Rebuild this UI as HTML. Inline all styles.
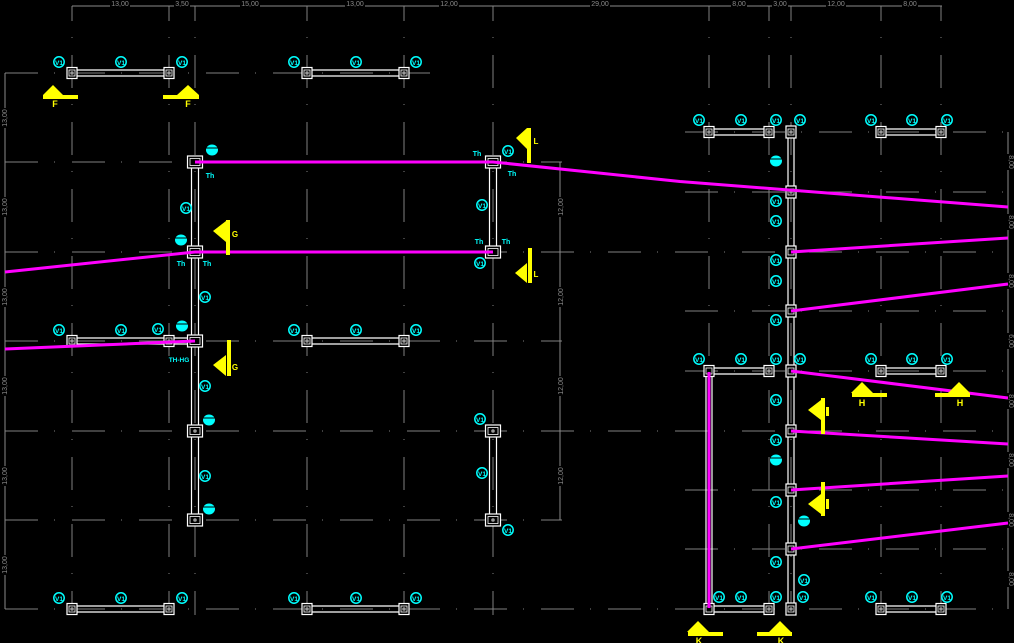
<!DOCTYPE html>
<html><head><meta charset="utf-8">
<style>html,body{margin:0;padding:0;background:#000;}svg{display:block;}</style>
</head><body>
<svg width="1014" height="643" viewBox="0 0 1014 643" xmlns="http://www.w3.org/2000/svg" font-family="Liberation Sans, sans-serif">
<rect width="1014" height="643" fill="#000"/>
<!-- grid -->
<g stroke="#808080" stroke-width="1" fill="none" stroke-dasharray="33 16 1 17" stroke-dashoffset="18">
<line x1="72" y1="6" x2="72" y2="615"/><line x1="169" y1="6" x2="169" y2="615"/><line x1="195" y1="6" x2="195" y2="615"/>
<line x1="307" y1="6" x2="307" y2="615"/><line x1="404" y1="6" x2="404" y2="615"/><line x1="493" y1="6" x2="493" y2="615"/>
<line x1="709" y1="6" x2="709" y2="615"/><line x1="769" y1="6" x2="769" y2="615"/><line x1="791" y1="6" x2="791" y2="615"/>
<line x1="881" y1="6" x2="881" y2="615"/><line x1="941" y1="6" x2="941" y2="615"/>
</g>
<g stroke="#808080" stroke-width="1" fill="none" stroke-dasharray="33 16 1 17">
<line x1="5" y1="73" x2="430" y2="73"/><line x1="5" y1="162" x2="562" y2="162"/><line x1="5" y1="252" x2="1008" y2="252"/>
<line x1="5" y1="341" x2="562" y2="341"/><line x1="5" y1="431" x2="1008" y2="431"/><line x1="5" y1="520" x2="562" y2="520"/>
<line x1="5" y1="609" x2="1008" y2="609"/>
<line x1="685" y1="132" x2="1008" y2="132"/><line x1="685" y1="192" x2="1008" y2="192"/><line x1="685" y1="311" x2="1008" y2="311"/>
<line x1="685" y1="371" x2="1008" y2="371"/><line x1="685" y1="490" x2="1008" y2="490"/><line x1="685" y1="549" x2="1008" y2="549"/>
</g>
<!-- dimension lines -->
<g stroke="#8a8a8a" stroke-width="1">
<line x1="72" y1="6" x2="942" y2="6"/>
<line x1="5" y1="73" x2="5" y2="609"/>
<line x1="560" y1="162" x2="560" y2="520"/>
<line x1="1008" y1="132" x2="1008" y2="609"/>
</g>
<g fill="#000">
<rect x="110" y="0" width="20" height="7"/><rect x="174" y="0" width="16" height="7"/><rect x="240" y="0" width="20" height="7"/>
<rect x="345" y="0" width="20" height="7"/><rect x="439" y="0" width="20" height="7"/><rect x="590" y="0" width="20" height="7"/>
<rect x="731" y="0" width="16" height="7"/><rect x="772" y="0" width="16" height="7"/><rect x="826" y="0" width="20" height="7"/><rect x="902" y="0" width="16" height="7"/>
<rect x="0" y="108" width="10" height="20"/><rect x="0" y="197" width="10" height="20"/><rect x="0" y="287" width="10" height="20"/>
<rect x="0" y="376" width="10" height="20"/><rect x="0" y="466" width="10" height="20"/><rect x="0" y="555" width="10" height="20"/>
<rect x="556" y="197" width="10" height="20"/><rect x="556" y="287" width="10" height="20"/><rect x="556" y="376" width="10" height="20"/><rect x="556" y="466" width="10" height="20"/>
<rect x="1004" y="154" width="10" height="16"/><rect x="1004" y="214" width="10" height="16"/><rect x="1004" y="273" width="10" height="16"/>
<rect x="1004" y="333" width="10" height="16"/><rect x="1004" y="393" width="10" height="16"/><rect x="1004" y="452" width="10" height="16"/>
<rect x="1004" y="512" width="10" height="16"/><rect x="1004" y="571" width="10" height="16"/>
</g>
<g fill="#8a8a8a" font-size="7" text-anchor="middle">
<text x="120" y="6">13,00</text><text x="182" y="6">3,50</text><text x="250" y="6">15,00</text><text x="355" y="6">13,00</text>
<text x="449" y="6">12,00</text><text x="600" y="6">29,00</text><text x="739" y="6">8,00</text><text x="780" y="6">3,00</text>
<text x="836" y="6">12,00</text><text x="910" y="6">8,00</text>
<text transform="translate(7,118) rotate(-90)">13,00</text><text transform="translate(7,207) rotate(-90)">13,00</text>
<text transform="translate(7,297) rotate(-90)">13,00</text><text transform="translate(7,386) rotate(-90)">13,00</text>
<text transform="translate(7,476) rotate(-90)">13,00</text><text transform="translate(7,565) rotate(-90)">13,00</text>
<text transform="translate(563,207) rotate(-90)">12,00</text><text transform="translate(563,297) rotate(-90)">12,00</text>
<text transform="translate(563,386) rotate(-90)">12,00</text><text transform="translate(563,476) rotate(-90)">12,00</text>
<text transform="translate(1009,162) rotate(90)">8,00</text><text transform="translate(1009,222) rotate(90)">8,00</text>
<text transform="translate(1009,281) rotate(90)">8,00</text><text transform="translate(1009,341) rotate(90)">6,00</text>
<text transform="translate(1009,401) rotate(90)">8,00</text><text transform="translate(1009,460) rotate(90)">8,00</text>
<text transform="translate(1009,520) rotate(90)">8,00</text><text transform="translate(1009,579) rotate(90)">8,00</text>
</g>
<!-- beams -->
<g stroke="#fff" stroke-width="1.2" fill="none">
<path d="M72 70H169M72 76H169M307 70H404M307 76H404"/>
<path d="M72 338H195M72 344H195M307 338H404M307 344H404"/>
<path d="M72 606H169M72 612H169M307 606H404M307 612H404"/>
<path d="M709 129H769M709 135H769M881 129H941M881 135H941"/>
<path d="M709 368H769M709 374H769M881 368H941M881 374H941"/>
<path d="M709 606H769M709 612H769M881 606H941M881 612H941"/>
<path d="M191.5 162V520M198.5 162V520"/>
<path d="M489.5 162V252M496.5 162V252M489.5 431V520M496.5 431V520"/>
<path d="M788 132V609M794 132V609"/>
<path d="M706 371V609M712 371V609"/>
</g>
<!-- columns -->
<g stroke="#fff" stroke-width="1.2" fill="#000">
<rect x="67" y="67.5" width="10" height="11"/><rect x="164" y="67.5" width="10" height="11"/><rect x="302" y="67.5" width="10" height="11"/><rect x="399" y="67.5" width="10" height="11"/>
<rect x="67" y="335.5" width="10" height="11"/><rect x="164" y="335.5" width="10" height="11"/><rect x="302" y="335.5" width="10" height="11"/><rect x="399" y="335.5" width="10" height="11"/>
<rect x="67" y="603.5" width="10" height="11"/><rect x="164" y="603.5" width="10" height="11"/><rect x="302" y="603.5" width="10" height="11"/><rect x="399" y="603.5" width="10" height="11"/>
<rect x="704" y="126.5" width="10" height="11"/><rect x="764" y="126.5" width="10" height="11"/><rect x="876" y="126.5" width="10" height="11"/><rect x="936" y="126.5" width="10" height="11"/>
<rect x="704" y="365.5" width="10" height="11"/><rect x="764" y="365.5" width="10" height="11"/><rect x="876" y="365.5" width="10" height="11"/><rect x="936" y="365.5" width="10" height="11"/>
<rect x="704" y="603.5" width="10" height="11"/><rect x="764" y="603.5" width="10" height="11"/><rect x="876" y="603.5" width="10" height="11"/><rect x="936" y="603.5" width="10" height="11"/>
<rect x="786" y="126" width="10" height="12"/><rect x="786" y="186" width="10" height="12"/><rect x="786" y="246" width="10" height="12"/>
<rect x="786" y="305" width="10" height="12"/><rect x="786" y="365" width="10" height="12"/><rect x="786" y="425" width="10" height="12"/>
<rect x="786" y="484" width="10" height="12"/><rect x="786" y="543" width="10" height="12"/><rect x="786" y="603" width="10" height="12"/>
<rect x="187.5" y="156" width="15" height="12"/><rect x="187.5" y="246" width="15" height="12"/><rect x="187.5" y="335" width="15" height="12"/>
<rect x="187.5" y="425" width="15" height="12"/><rect x="187.5" y="514" width="15" height="12"/>
<rect x="485.5" y="156" width="15" height="12"/><rect x="485.5" y="246" width="15" height="12"/>
<rect x="485.5" y="425" width="15" height="12"/><rect x="485.5" y="514" width="15" height="12"/>
</g>
<g stroke="#fff" stroke-width="0.8" fill="none">
<rect x="69" y="70" width="6" height="6"/><rect x="166" y="70" width="6" height="6"/><rect x="304" y="70" width="6" height="6"/><rect x="401" y="70" width="6" height="6"/>
<rect x="69" y="338" width="6" height="6"/><rect x="166" y="338" width="6" height="6"/><rect x="304" y="338" width="6" height="6"/><rect x="401" y="338" width="6" height="6"/>
<rect x="69" y="606" width="6" height="6"/><rect x="166" y="606" width="6" height="6"/><rect x="304" y="606" width="6" height="6"/><rect x="401" y="606" width="6" height="6"/>
<rect x="706" y="129" width="6" height="6"/><rect x="766" y="129" width="6" height="6"/><rect x="878" y="129" width="6" height="6"/><rect x="938" y="129" width="6" height="6"/>
<rect x="706" y="368" width="6" height="6"/><rect x="766" y="368" width="6" height="6"/><rect x="878" y="368" width="6" height="6"/><rect x="938" y="368" width="6" height="6"/>
<rect x="706" y="606" width="6" height="6"/><rect x="766" y="606" width="6" height="6"/><rect x="878" y="606" width="6" height="6"/><rect x="938" y="606" width="6" height="6"/>
<rect x="788" y="129" width="6" height="6"/><rect x="788" y="189" width="6" height="6"/><rect x="788" y="249" width="6" height="6"/>
<rect x="788" y="308" width="6" height="6"/><rect x="788" y="368" width="6" height="6"/><rect x="788" y="428" width="6" height="6"/>
<rect x="788" y="487" width="6" height="6"/><rect x="788" y="546" width="6" height="6"/><rect x="788" y="606" width="6" height="6"/>
<rect x="190" y="158.5" width="10" height="7"/><rect x="190" y="248.5" width="10" height="7"/><rect x="190" y="337.5" width="10" height="7"/>
<rect x="190" y="427.5" width="10" height="7"/><rect x="190" y="516.5" width="10" height="7"/>
<rect x="488" y="158.5" width="10" height="7"/><rect x="488" y="248.5" width="10" height="7"/>
<rect x="488" y="427.5" width="10" height="7"/><rect x="488" y="516.5" width="10" height="7"/>
</g>
<g fill="#999">
<circle cx="72" cy="73" r="1.8"/><circle cx="169" cy="73" r="1.8"/><circle cx="307" cy="73" r="1.8"/><circle cx="404" cy="73" r="1.8"/>
<circle cx="72" cy="341" r="1.8"/><circle cx="169" cy="341" r="1.8"/><circle cx="307" cy="341" r="1.8"/><circle cx="404" cy="341" r="1.8"/>
<circle cx="72" cy="609" r="1.8"/><circle cx="169" cy="609" r="1.8"/><circle cx="307" cy="609" r="1.8"/><circle cx="404" cy="609" r="1.8"/>
<circle cx="709" cy="132" r="1.8"/><circle cx="769" cy="132" r="1.8"/><circle cx="881" cy="132" r="1.8"/><circle cx="941" cy="132" r="1.8"/>
<circle cx="769" cy="371" r="1.8"/><circle cx="881" cy="371" r="1.8"/><circle cx="941" cy="371" r="1.8"/>
<circle cx="769" cy="609" r="1.8"/><circle cx="881" cy="609" r="1.8"/><circle cx="941" cy="609" r="1.8"/>
<circle cx="791" cy="132" r="1.8"/><circle cx="791" cy="192" r="1.8"/><circle cx="791" cy="609" r="1.8"/>
<circle cx="195" cy="431" r="1.8"/><circle cx="195" cy="520" r="1.8"/>
<circle cx="493" cy="431" r="1.8"/><circle cx="493" cy="520" r="1.8"/>
</g>
<!-- magenta -->
<g stroke="#ff00ff" stroke-width="3" fill="none">
<polyline points="195,162 493,162 680,181.5 1008,207"/>
<polyline points="5,272 195,252 493,252"/>
<line x1="791" y1="252" x2="1008" y2="238"/>
<line x1="791" y1="311" x2="1008" y2="284"/>
<line x1="5" y1="349" x2="195" y2="341"/>
<line x1="791" y1="371" x2="1008" y2="398"/>
<line x1="791" y1="431" x2="1008" y2="444"/>
<line x1="791" y1="490" x2="1008" y2="476"/>
<line x1="791" y1="549" x2="1008" y2="523"/>
<line x1="709" y1="372" x2="709" y2="608"/>
</g>
<!-- cyan bubbles -->
<g stroke="#00ffff" stroke-width="1.5" fill="none">
<circle cx="59" cy="62" r="5.2"/><circle cx="121" cy="62" r="5.2"/><circle cx="182" cy="62" r="5.2"/><circle cx="294" cy="62" r="5.2"/><circle cx="356" cy="62" r="5.2"/><circle cx="416" cy="62" r="5.2"/>
<circle cx="186" cy="208" r="5.2"/><circle cx="508" cy="151" r="5.2"/><circle cx="482" cy="205" r="5.2"/><circle cx="480" cy="263" r="5.2"/>
<circle cx="59" cy="330" r="5.2"/><circle cx="121" cy="330" r="5.2"/><circle cx="158" cy="329" r="5.2"/><circle cx="294" cy="330" r="5.2"/><circle cx="356" cy="330" r="5.2"/><circle cx="416" cy="330" r="5.2"/>
<circle cx="205" cy="297" r="5.2"/><circle cx="205" cy="386" r="5.2"/><circle cx="205" cy="476" r="5.2"/>
<circle cx="480" cy="419" r="5.2"/><circle cx="482" cy="473" r="5.2"/><circle cx="508" cy="530" r="5.2"/>
<circle cx="59" cy="598" r="5.2"/><circle cx="121" cy="598" r="5.2"/><circle cx="182" cy="598" r="5.2"/><circle cx="294" cy="598" r="5.2"/><circle cx="356" cy="598" r="5.2"/><circle cx="416" cy="598" r="5.2"/>
<circle cx="699" cy="120" r="5.2"/><circle cx="741" cy="120" r="5.2"/><circle cx="776" cy="120" r="5.2"/><circle cx="800" cy="120" r="5.2"/><circle cx="871" cy="120" r="5.2"/><circle cx="912" cy="120" r="5.2"/><circle cx="947" cy="120" r="5.2"/>
<circle cx="776" cy="201" r="5.2"/><circle cx="776" cy="221" r="5.2"/><circle cx="776" cy="260" r="5.2"/><circle cx="776" cy="281" r="5.2"/><circle cx="776" cy="320" r="5.2"/>
<circle cx="699" cy="359" r="5.2"/><circle cx="741" cy="359" r="5.2"/><circle cx="776" cy="359" r="5.2"/><circle cx="800" cy="359" r="5.2"/><circle cx="871" cy="359" r="5.2"/><circle cx="912" cy="359" r="5.2"/><circle cx="947" cy="359" r="5.2"/>
<circle cx="776" cy="400" r="5.2"/><circle cx="776" cy="440" r="5.2"/><circle cx="776" cy="502" r="5.2"/><circle cx="776" cy="562" r="5.2"/><circle cx="804" cy="580" r="5.2"/>
<circle cx="719" cy="597" r="5.2"/><circle cx="741" cy="597" r="5.2"/><circle cx="776" cy="597" r="5.2"/><circle cx="803" cy="597" r="5.2"/><circle cx="871" cy="597" r="5.2"/><circle cx="912" cy="597" r="5.2"/><circle cx="947" cy="597" r="5.2"/>
</g>
<g fill="#00ffff" font-size="6.5" font-weight="bold" text-anchor="middle">
<text x="59" y="65">V1</text><text x="121" y="65">V1</text><text x="182" y="65">V1</text><text x="294" y="65">V1</text><text x="356" y="65">V1</text><text x="416" y="65">V1</text>
<text x="186" y="211">V1</text><text x="508" y="154">V1</text><text x="482" y="208">V1</text><text x="480" y="266">V1</text>
<text x="59" y="333">V1</text><text x="121" y="333">V1</text><text x="158" y="332">V1</text><text x="294" y="333">V1</text><text x="356" y="333">V1</text><text x="416" y="333">V1</text>
<text x="205" y="300">V1</text><text x="205" y="389">V1</text><text x="205" y="479">V1</text>
<text x="480" y="422">V1</text><text x="482" y="476">V1</text><text x="508" y="533">V1</text>
<text x="59" y="601">V1</text><text x="121" y="601">V1</text><text x="182" y="601">V1</text><text x="294" y="601">V1</text><text x="356" y="601">V1</text><text x="416" y="601">V1</text>
<text x="699" y="123">V1</text><text x="741" y="123">V1</text><text x="776" y="123">V1</text><text x="800" y="123">V1</text><text x="871" y="123">V1</text><text x="912" y="123">V1</text><text x="947" y="123">V1</text>
<text x="776" y="204">V1</text><text x="776" y="224">V1</text><text x="776" y="263">V1</text><text x="776" y="284">V1</text><text x="776" y="323">V1</text>
<text x="699" y="362">V1</text><text x="741" y="362">V1</text><text x="776" y="362">V1</text><text x="800" y="362">V1</text><text x="871" y="362">V1</text><text x="912" y="362">V1</text><text x="947" y="362">V1</text>
<text x="776" y="403">V1</text><text x="776" y="443">V1</text><text x="776" y="505">V1</text><text x="776" y="565">V1</text><text x="804" y="583">V1</text>
<text x="719" y="600">V1</text><text x="741" y="600">V1</text><text x="776" y="600">V1</text><text x="803" y="600">V1</text><text x="871" y="600">V1</text><text x="912" y="600">V1</text><text x="947" y="600">V1</text>
</g>
<!-- filled bubbles -->
<g fill="#00ffff">
<ellipse cx="212" cy="150" rx="6" ry="5.5"/><ellipse cx="181" cy="240" rx="6" ry="5.5"/><ellipse cx="182" cy="326" rx="6" ry="5.5"/>
<ellipse cx="209" cy="420" rx="6" ry="5.5"/><ellipse cx="209" cy="509" rx="6" ry="5.5"/>
<ellipse cx="776" cy="161" rx="6" ry="5.5"/><ellipse cx="776" cy="460" rx="6" ry="5.5"/><ellipse cx="804" cy="521" rx="6" ry="5.5"/>
</g>
<g stroke="#000" stroke-width="1">
<line x1="206" y1="148" x2="218" y2="148"/><line x1="175" y1="238" x2="187" y2="238"/><line x1="176" y1="324" x2="188" y2="324"/>
<line x1="203" y1="418" x2="215" y2="418"/><line x1="203" y1="507" x2="215" y2="507"/>
<line x1="770" y1="159" x2="782" y2="159"/><line x1="770" y1="458" x2="782" y2="458"/><line x1="798" y1="519" x2="810" y2="519"/>
</g>
<g fill="#00ffff" font-size="7" font-weight="bold" text-anchor="middle">
<text x="210" y="178">Th</text><text x="181" y="266">Th</text><text x="207" y="266">Th</text>
<text x="477" y="156">Th</text><text x="512" y="176">Th</text><text x="479" y="244">Th</text><text x="506" y="244">Th</text>
<text x="179" y="362" font-size="6.5">TH-HG</text>
</g>
<!-- yellow markers -->
<g fill="#ffff00">
<polygon points="43,95 53,85 63,95"/><rect x="43" y="95" width="35" height="4"/>
<polygon points="177,95 188,85 199,95"/><rect x="163" y="95" width="36" height="4"/>
<polygon points="851,393 862,382 873,393"/><rect x="852" y="393" width="35" height="4"/>
<polygon points="948,393 959,382 970,393"/><rect x="935" y="393" width="35" height="4"/>
<polygon points="687,632 698,621 709,632"/><rect x="688" y="632" width="35" height="4"/>
<polygon points="769,632 780,621 791,632"/><rect x="757" y="632" width="35" height="4"/>
<rect x="226" y="220" width="4" height="35"/><polygon points="213,231 226,221 226,242"/>
<rect x="227" y="340" width="4" height="36"/><polygon points="213,365 226,355 226,376"/>
<rect x="527" y="128" width="4" height="35"/><polygon points="516,138 527,128 527,149"/>
<rect x="528" y="248" width="4" height="35"/><polygon points="515,273 527,263 527,283"/>
<rect x="821" y="398" width="4" height="36"/><polygon points="808,410 821,400 821,420"/>
<rect x="821" y="482" width="4" height="34"/><polygon points="808,504 821,494 821,514"/>
<rect x="826" y="407" width="3" height="9"/><rect x="826" y="499" width="3" height="10"/>
</g>
<g fill="#ffff00" font-size="9" font-weight="bold" text-anchor="middle">
<text x="55" y="107">F</text><text x="188" y="107">F</text>
<text x="862" y="406">H</text><text x="960" y="406">H</text>
<text x="699" y="644">K</text><text x="781" y="644">K</text>
<text x="235" y="237" font-size="8">G</text><text x="235" y="370" font-size="8">G</text>
<text x="536" y="144" font-size="8">L</text><text x="536" y="277" font-size="8">L</text>
</g>
</svg>
</body></html>
